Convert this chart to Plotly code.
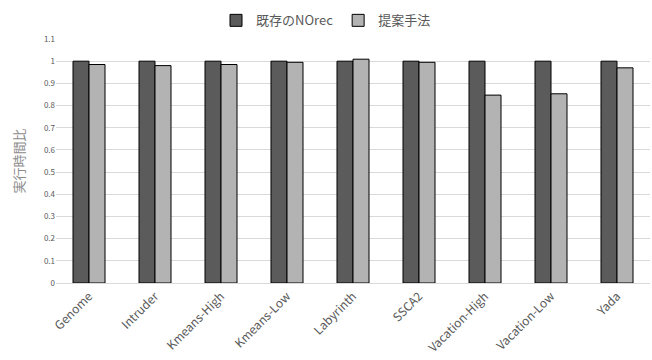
import plotly.graph_objects as go

categories = ["Genome", "Intruder", "Kmeans-High", "Kmeans-Low", "Labyrinth",
              "SSCA2", "Vacation-High", "Vacation-Low", "Yada"]
norec = [1, 1, 1, 1, 1, 1, 1, 1, 1]
proposed = [0.985, 0.98, 0.985, 0.995, 1.009, 0.995, 0.847, 0.853, 0.97]
series_names = ["既存のNOrec", "提案手法"]
y_ticks = [0, 0.1, 0.2, 0.3, 0.4, 0.5, 0.6, 0.7, 0.8, 0.9, 1, 1.1]

FONT = "Noto Sans CJK JP, Noto Sans, sans-serif"
GRAY = "#595959"

fig = go.Figure()
fig.add_trace(go.Bar(x=categories, y=norec, name=series_names[0],
                     marker=dict(color="#5b5b5b", line=dict(color="#000000", width=1))))
fig.add_trace(go.Bar(x=categories, y=proposed, name=series_names[1],
                     marker=dict(color="#b3b3b3", line=dict(color="#000000", width=1))))

fig.update_layout(
    width=652, height=360,
    margin=dict(l=56, r=2, t=39, b=77),
    paper_bgcolor="white", plot_bgcolor="white",
    barmode="group", bargap=0.515, bargroupgap=0,
    font=dict(family=FONT, color=GRAY),
    legend=dict(orientation="h", xref="container", yref="container",
                x=0.5, xanchor="center", y=0.985, yanchor="top",
                font=dict(size=13, color=GRAY), itemwidth=30,
                traceorder="normal"),
    xaxis=dict(tickangle=-45, tickfont=dict(size=12, color=GRAY),
               showline=False, showgrid=False, ticks="", ticklabelstandoff=3,
               automargin=False),
    yaxis=dict(range=[0, 1.1], tickvals=y_ticks,
               ticktext=[str(v) for v in y_ticks],
               tickfont=dict(size=8, color=GRAY),
               showgrid=True, gridcolor="#d9d9d9", gridwidth=1,
               zeroline=True, zerolinecolor="#d9d9d9", zerolinewidth=1,
               showline=False, ticks="", automargin=False,
               title=dict(text="実行時間比", font=dict(size=13, color="#8c8c8c"),
                          standoff=16)),
)

fig.write_html("out.html")
